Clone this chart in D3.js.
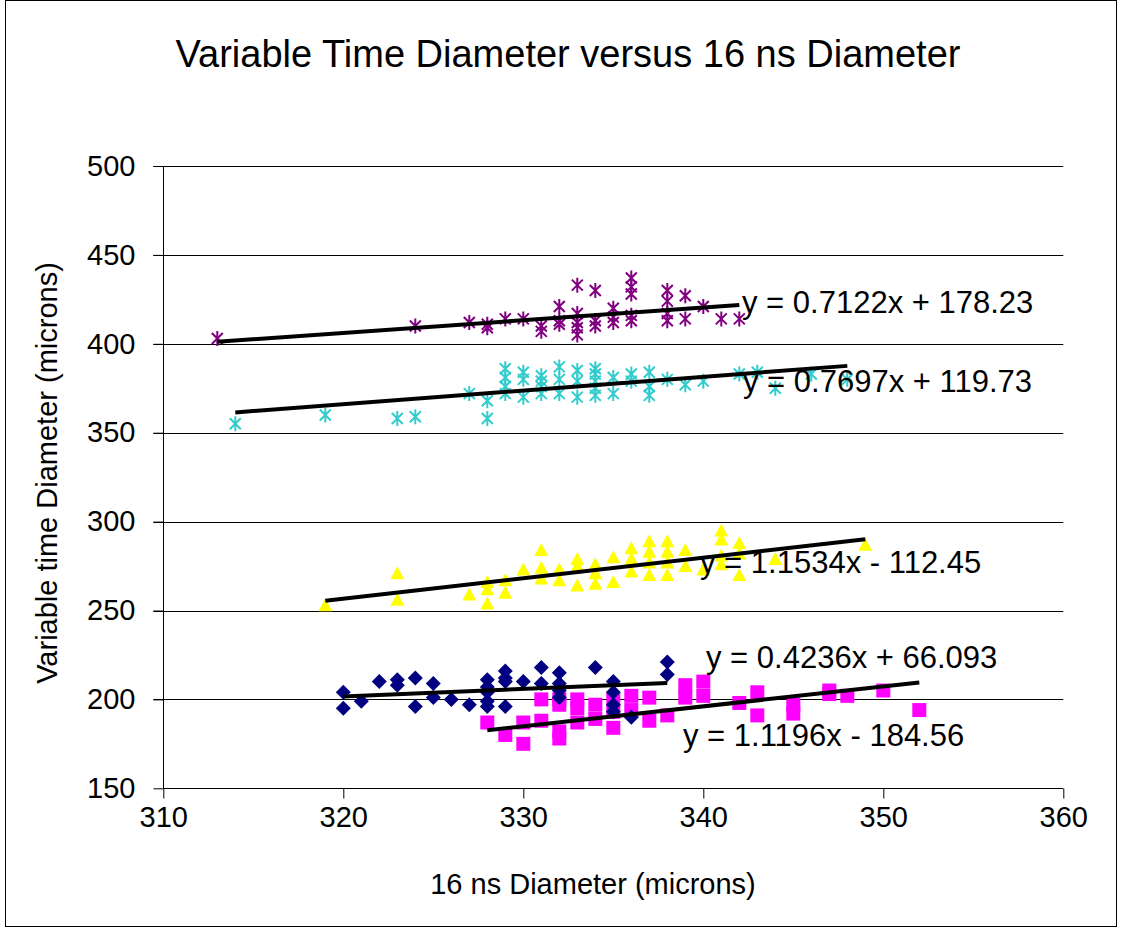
<!DOCTYPE html>
<html><head><meta charset="utf-8">
<script src="https://cdn.jsdelivr.net/npm/d3@7"></script>
<style>body{margin:0;background:#fff}svg{display:block}text{font-family:"Liberation Sans",Arial,sans-serif;fill:#000}</style>
</head><body>
<script>
// ---- data ----
const xTicks = [310,320,330,340,350,360];
const yTicks = [150,200,250,300,350,400,450,500];

const purpleX = [313,324,327,328,328,329,330,331,331,332,332,332,333,333,333,333,333,334,334,334,335,335,335,336,336,336,336,336,338,338,338,338,339,339,340,341,342];
const purpleY = [403,410,412,411,409,414,414,410,407,421,413,411,433,417,412,409,405,430,413,410,420,415,412,437,432,428,416,413,430,424,417,413,427,414,421,414,414];

const cyanX = [314,319,323,324,327,328,328,329,329,329,329,330,330,330,331,331,331,331,332,332,332,333,333,333,334,334,334,334,334,335,335,336,336,337,337,337,338,339,340,342,343,344,346,348];
const cyanY = [355,360,358,359,372,368,358,386,381,376,372,384,380,370,382,379,376,372,387,380,372,385,379,370,386,383,379,375,371,381,372,383,379,384,376,371,380,377,379,383,384,375,383,380];

const yellowX = [319,323,323,327,328,328,328,329,329,330,331,331,331,332,332,333,333,333,334,334,334,335,335,336,336,336,337,337,337,337,338,338,338,338,339,339,340,341,341,341,341,342,342,342,344,349];
const yellowY = [253,271,256,259,266,262,254,267,260,273,284,274,268,273,267,279,275,264,276,271,265,280,266,285,279,272,289,283,277,270,289,283,277,270,284,275,273,295,290,281,276,288,282,270,279,287];

const navyX = [320,320,321,322,323,323,324,324,325,325,326,327,328,328,328,328,328,329,329,329,329,330,331,331,332,332,332,332,334,335,335,335,335,336,338,338];
const navyY = [204,195,199,210,211,208,212,196,209,201,200,197,211,207,204,199,196,216,212,210,196,210,218,209,215,209,205,201,218,210,204,197,193,190,221,214];

const magentaX = [328,329,330,330,331,331,332,332,332,332,333,333,333,334,334,335,335,335,336,336,337,337,338,339,339,340,340,342,343,343,345,345,347,347,348,350,352];
const magentaY = [187,180,187,175,200,188,200,197,182,178,200,195,187,197,189,200,193,184,202,194,201,188,191,208,201,210,202,198,204,191,197,192,205,203,202,205,194];

// trendline equations as printed on the chart
const seriesNames = ["magenta","navy","yellow","cyan","purple"];
const slopes      = [1.1196, 0.4236, 1.1534, 0.7697, 0.7122];
const intercepts  = [-184.56, 66.093, -112.45, 119.73, 178.23];
const eqLabels    = ["y = 1.1196x - 184.56","y = 0.4236x + 66.093","y = 1.1534x - 112.45","y = 0.7697x + 119.73","y = 0.7122x + 178.23"];

// ---- layout / style ----
const W = 1122, H = 930;
const L = 163.3, R = 1063.3, T = 166, B = 788.3;
const styles = {
  magenta:{color:"#FF00FF", shape:"square"},
  navy:{color:"#000080", shape:"diamond"},
  yellow:{color:"#FFFF00", shape:"triangle"},
  cyan:{color:"#33CCCC", shape:"star"},
  purple:{color:"#800080", shape:"star"}
};
const labelPos = { // pixel anchor (left, vertical middle)
  magenta:[683,735], navy:[706,657], yellow:[700,562], cyan:[743,381], purple:[742,302]
};
const data = {
  magenta:[magentaX,magentaY], navy:[navyX,navyY], yellow:[yellowX,yellowY],
  cyan:[cyanX,cyanY], purple:[purpleX,purpleY]
};

const svg = d3.select("body").append("svg").attr("width",W).attr("height",H);
svg.append("rect").attr("x",5.5).attr("y",0.5).attr("width",1111).attr("height",926)
  .attr("fill","#fff").attr("stroke","#000").attr("stroke-width",1);

const x = d3.scaleLinear().domain([310,360]).range([L,R]);
const y = d3.scaleLinear().domain([150,500]).range([B,T]);

// gridlines
svg.append("g").selectAll("line").data(yTicks.filter(d=>d>150)).join("line")
  .attr("x1",L-10).attr("x2",R).attr("y1",d=>Math.round(y(d))+0.5).attr("y2",d=>Math.round(y(d))+0.5)
  .attr("stroke","#000").attr("stroke-width",1);

// axes
const yAxis = svg.append("g").attr("transform",`translate(${Math.round(L)+0.5},0)`)
  .call(d3.axisLeft(y).tickValues(yTicks).tickSize(10).tickPadding(18).tickFormat(d3.format("d")));
const xAxis = svg.append("g").attr("transform",`translate(0,${Math.round(B)+0.5})`)
  .call(d3.axisBottom(x).tickValues(xTicks).tickSize(10).tickPadding(8).tickFormat(d3.format("d")));
[yAxis,xAxis].forEach(g=>{
  g.select(".domain").attr("stroke","#000");
  g.selectAll(".tick line").attr("stroke","#000");
  g.selectAll("text").attr("font-size",29).attr("fill","#000")
   .style("font-family",'"Liberation Sans",Arial,sans-serif');
});
yAxis.select(".domain").attr("d",`M0,${T}V${B}`);
xAxis.select(".domain").attr("d",`M${L},0H${R}`);

// markers
function markerPath(shape){
  if(shape==="square") return "M-7,-7H7V7H-7Z";
  if(shape==="diamond") return "M0,-7.5L7.5,0L0,7.5L-7.5,0Z";
  if(shape==="triangle") return "M0,-7L7,6H-7Z";
  return "M-5.5,-5.5L5.5,5.5M-5.5,5.5L5.5,-5.5M0,-7.5V7.5";
}
seriesNames.forEach(name=>{
  const [xs,ys] = data[name];
  const st = styles[name];
  const pts = xs.map((v,i)=>[v,ys[i]]);
  const g = svg.append("g");
  const sel = g.selectAll("path").data(pts).join("path")
    .attr("transform",d=>`translate(${x(d[0])},${y(d[1])})`)
    .attr("d",markerPath(st.shape));
  if(st.shape==="star") sel.attr("fill","none").attr("stroke",st.color).attr("stroke-width",2);
  else sel.attr("fill",st.color).attr("stroke","none");
});

// trendlines
seriesNames.forEach((name,i)=>{
  const xs = data[name][0];
  const x0 = d3.min(xs), x1 = d3.max(xs);
  svg.append("line")
    .attr("x1",x(x0)).attr("y1",y(slopes[i]*x0+intercepts[i]))
    .attr("x2",x(x1)).attr("y2",y(slopes[i]*x1+intercepts[i]))
    .attr("stroke","#000").attr("stroke-width",4);
});

// equation labels
seriesNames.forEach((name,i)=>{
  const p = labelPos[name];
  svg.append("text").attr("x",p[0]).attr("y",p[1]).attr("dy","0.36em")
    .attr("font-size",31).text(eqLabels[i]);
});

// titles
svg.append("text").attr("x",568).attr("y",53).attr("dy","0.36em").attr("text-anchor","middle")
  .attr("font-size",38).text("Variable Time Diameter versus 16 ns Diameter");
svg.append("text").attr("x",593).attr("y",884).attr("dy","0.36em").attr("text-anchor","middle")
  .attr("font-size",29).text("16 ns Diameter (microns)");
svg.append("text").attr("transform","translate(47,473) rotate(-90)").attr("dy","0.36em")
  .attr("text-anchor","middle").attr("font-size",29).text("Variable time Diameter (microns)");
</script>
</body></html>
